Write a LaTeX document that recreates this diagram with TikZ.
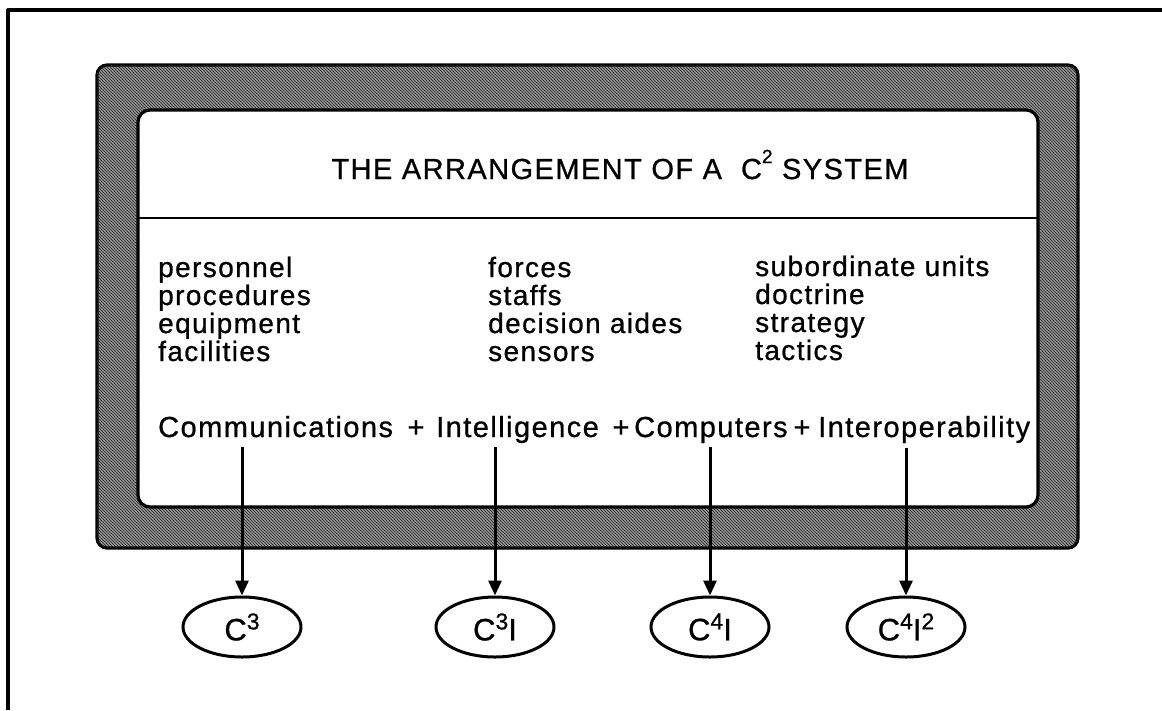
\documentclass[tikz,border=0pt]{standalone}
\usepackage{fontspec}
\setmainfont{Liberation Sans}[LetterSpace=5,FakeBold=0.8]
\usetikzlibrary{patterns,arrows.meta,shapes.geometric}

% raised exponent in the headline and in the result ovals
\newcommand\hdexp[1]{\raisebox{16pt}{\fontsize{19}{19}\selectfont #1}}
\newcommand\ovexp[1]{\raisebox{11pt}{\fontsize{23}{23}\selectfont #1}}

\begin{document}
\begin{tikzpicture}[x=1pt,y=-1pt,line join=round,
  heavy/.style={line width=3.2pt},
  body/.style={font=\fontsize{28}{28}\selectfont,inner sep=0pt,anchor=base west},
  sum/.style={font=\fontsize{29}{29}\selectfont,inner sep=0pt,anchor=base west},
  plus/.style={font=\fontsize{29}{29}\selectfont,inner sep=0pt,anchor=base},
  result/.style={ellipse,draw,line width=3pt,minimum width=118pt,minimum height=60pt,
    inner sep=0pt,font=\fontsize{31}{31}\selectfont},
  link/.style={line width=3pt,-{Triangle[length=15pt,width=13pt]}}]
\useasboundingbox (0,0) rectangle (1162,710);

% open page frame (top and left edges only)
\draw[heavy] (8,710) -- (8,10) -- (1162,10);

% shaded surround and white panel
\draw[heavy,rounded corners=10pt,fill=black!42,
  postaction={pattern=north west lines,pattern color=black!85}]
  (97,65) rectangle (1078,548);
\draw[heavy,rounded corners=12pt,fill=white] (138,110) rectangle (1038,507);
\draw[line width=2.4pt] (138,218) -- (1038,218);

% headline
\node[font=\fontsize{29}{29}\selectfont,inner sep=0pt,anchor=base] (title) at (620,179)
  {THE ARRANGEMENT OF A\ \ C\hdexp{2} SYSTEM};

% three columns of elements
\foreach \w [count=\i] in {personnel,procedures,equipment,facilities}
  \node[body] (a\i) at (158,{277+28*(\i-1)}) {\w};
\foreach \w [count=\i] in {forces,staffs,decision aides,sensors}
  \node[body] (b\i) at (488,{277+28*(\i-1)}) {\w};
\foreach \w [count=\i] in {subordinate units,doctrine,strategy,tactics}
  \node[body] (c\i) at (755,{276+28*(\i-1)}) {\w};

% the sum
\node[sum] (comm) at (158,437) {Communications};
\node[plus] (p1) at (416,437) {+};
\node[sum] (intel) at (436,437) {Intelligence};
\node[plus] (p2) at (621,437) {+};
\node[sum] (comp) at (634,437) {Computers};
\node[plus] (p3) at (802,437) {+};
\node[sum] (inter) at (818,437) {Interoperability};

% resulting designations
\node[result] (r1) at (242,627) {C\ovexp{3}};
\node[result] (r2) at (495,627) {C\ovexp{3}I};
\node[result] (r3) at (710,627) {C\ovexp{4}I};
\node[result] (r4) at (906,627) {C\ovexp{4}I\ovexp{2}};

\coordinate (s1) at (242,447);
\coordinate (s2) at (495,447);
\coordinate (s3) at (710,447);
\coordinate (s4) at (906,448);
\foreach \k in {1,2,3,4}
  \draw[link] (s\k) -- (r\k.north);
\end{tikzpicture}
\end{document}
